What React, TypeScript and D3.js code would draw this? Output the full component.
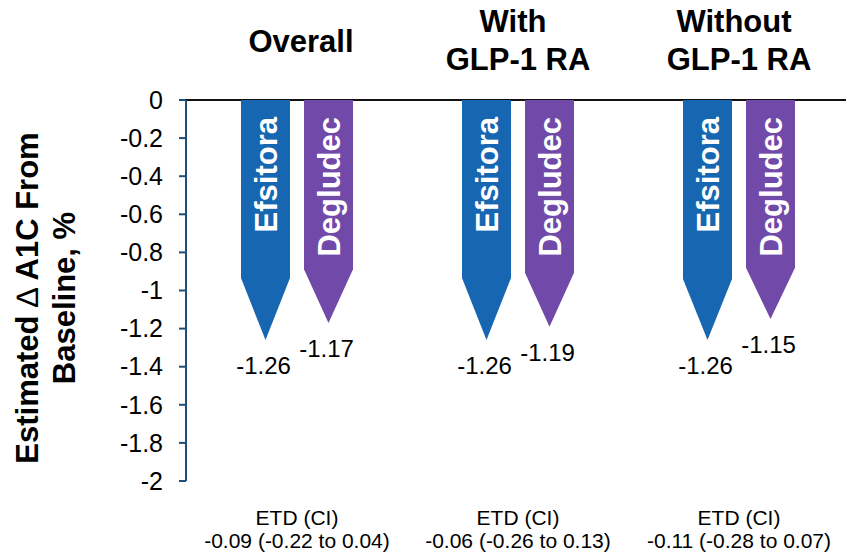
import React from "react";
import * as d3 from "d3";

const groups = ["Overall", "With GLP-1 RA", "Without GLP-1 RA"];
const groupTitles = [["Overall"], ["With", "GLP-1 RA"], ["Without", "GLP-1 RA"]];
const series = ["Efsitora", "Degludec"];
const efsitora = [-1.26, -1.26, -1.26];
const degludec = [-1.17, -1.19, -1.15];
const efsitoraNeck = [-0.934, -0.934, -0.94];
const degludecNeck = [-0.889, -0.907, -0.88];
const etdLines = [
  "-0.09 (-0.22 to 0.04)",
  "-0.06 (-0.26 to 0.13)",
  "-0.11 (-0.28 to 0.07)",
];
const yTicks = [0, -0.2, -0.4, -0.6, -0.8, -1, -1.2, -1.4, -1.6, -1.8, -2];
const colors = ["#1666b1", "#7049a9"];

const W = 846;
const H = 553;
const FONT = "'Liberation Sans', Arial, Helvetica, sans-serif";

export default function App() {
  const y = d3.scaleLinear().domain([0, -2]).range([100, 481]);
  const x = d3.scaleBand<string>().domain(groups).range([186.5, 849.5]);
  const inner = d3
    .scaleBand<string>()
    .domain(series)
    .range([54.5, 166.5])
    .paddingInner(14 / 63)
    .paddingOuter(0);

  const values = [efsitora, degludec];
  const necks = [efsitoraNeck, degludecNeck];

  return (
    <svg
      width={W}
      height={H}
      style={{ position: "absolute", left: 0, top: 0, background: "#fff" }}
      fontFamily={FONT}
    >
      {/* zero line */}
      <line x1={186} x2={W} y1={y(0)} y2={y(0)} stroke="#111" strokeWidth={2} />
      {/* y axis */}
      <line x1={186} x2={186} y1={y(0)} y2={y(-2)} stroke="#1f4e79" strokeWidth={2} />
      {yTicks.map((t) => (
        <g key={t}>
          <line x1={179} x2={186} y1={y(t)} y2={y(t)} stroke="#1f4e79" strokeWidth={2} />
          <text
            x={163}
            y={y(t)}
            dy="0.35em"
            textAnchor="end"
            fontSize={25}
            fill="#000"
          >
            {d3.format("")(t).replace("−", "-")}
          </text>
        </g>
      ))}
      {/* y axis title */}
      <g transform={`translate(0, 298) rotate(-90)`}>
        <text x={0} y={38} textAnchor="middle" fontSize={31} fontWeight="bold" fill="#000">
          Estimated <tspan fontWeight="normal">∆</tspan> A1C From
        </text>
        <text x={0} y={75} textAnchor="middle" fontSize={31} fontWeight="bold" fill="#000">
          Baseline, %
        </text>
      </g>

      {groups.map((g, gi) => {
        const gx = x(g)!;
        const gc = gx + x.bandwidth() / 2;
        const titles = groupTitles[gi];
        return (
          <g key={g}>
            {titles.length === 1 ? (
              <text x={gc + 4} y={52} textAnchor="middle" fontSize={31} fontWeight="bold">
                {titles[0]}
              </text>
            ) : (
              titles.map((t, ti) => (
                <text
                  key={ti}
                  x={gc - (ti === 0 ? 5 : 0)}
                  y={32 + ti * 38}
                  textAnchor="middle"
                  fontSize={31}
                  fontWeight="bold"
                >
                  {t}
                </text>
              ))
            )}
            {series.map((s, si) => {
              const x0 = gx + inner(s)!;
              const x1 = x0 + inner.bandwidth();
              const cx = (x0 + x1) / 2;
              const v = values[si][gi];
              const n = necks[si][gi];
              const path = d3.path();
              path.moveTo(x0, y(0));
              path.lineTo(x1, y(0));
              path.lineTo(x1, y(n));
              path.lineTo(cx, y(v));
              path.lineTo(x0, y(n));
              path.closePath();
              return (
                <g key={s}>
                  <path d={path.toString()} fill={colors[si]} />
                  <g transform={`translate(${cx}, 117) rotate(-90)`}>
                    <text
                      x={0}
                      y={0}
                      dy="0.36em"
                      textAnchor="end"
                      fontSize={31}
                      fontWeight="bold"
                      fill="#fff"
                    >
                      {s}
                    </text>
                  </g>
                  <text
                    x={cx - 2}
                    y={y(v) + 34}
                    textAnchor="middle"
                    fontSize={24}
                    fill="#000"
                  >
                    {v.toFixed(2)}
                  </text>
                </g>
              );
            })}
            <text x={gc} y={525} textAnchor="middle" fontSize={21} fill="#000">
              ETD (CI)
            </text>
            <text x={gc} y={548} textAnchor="middle" fontSize={21} fill="#000">
              {etdLines[gi]}
            </text>
          </g>
        );
      })}
    </svg>
  );
}
